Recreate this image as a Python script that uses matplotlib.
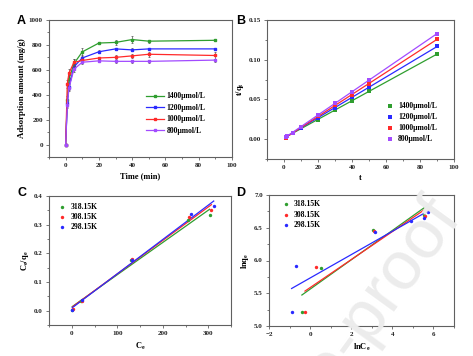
import numpy as np
import matplotlib
matplotlib.use("Agg")
import matplotlib.pyplot as plt
from matplotlib.ticker import MultipleLocator, FormatStrFormatter

# ---------------- data ----------------
time_a = [0, 1, 2, 5, 10, 20, 30, 40, 50, 90]
labels_conc = ["1400\u03bcmol/L", "1200\u03bcmol/L", "1000\u03bcmol/L", "800\u03bcmol/L"]
q_1400 = [0, 360, 525, 650, 744, 815, 820, 843, 830, 837]
q_1200 = [0, 330, 460, 625, 695, 745, 768, 760, 768, 768]
q_1000 = [0, 488, 573, 660, 675, 695, 700, 712, 725, 715]
q_800 = [0, 314, 453, 605, 661, 672, 668, 668, 668, 678]
err_1400 = [0, 30, 30, 40, 35, 10, 18, 28, 12, 8]
err_1200 = [0, 25, 25, 30, 20, 12, 10, 12, 10, 8]
err_1000 = [0, 30, 30, 30, 15, 10, 15, 15, 20, 25]
err_800 = [0, 20, 25, 25, 12, 12, 12, 12, 10, 12]

time_b = [1, 2, 5, 10, 20, 30, 40, 50, 90]
tq_1400 = [0.0028, 0.0038, 0.0077, 0.0134, 0.0245, 0.0366, 0.0474, 0.0602, 0.1075]
tq_1200 = [0.0030, 0.0043, 0.0080, 0.0144, 0.0268, 0.0390, 0.0526, 0.0651, 0.1170]
tq_1000 = [0.0020, 0.0035, 0.0076, 0.0148, 0.0288, 0.0429, 0.0562, 0.0690, 0.1260]
tq_800 = [0.0032, 0.0044, 0.0083, 0.0151, 0.0298, 0.0449, 0.0599, 0.0748, 0.1327]

labels_temp = ["318.15K", "308.15K", "298.15K"]
ce_318 = [1, 20, 130, 255, 303]
ceq_318 = [0.003, 0.033, 0.178, 0.315, 0.333]
ce_308 = [2, 22, 132, 257, 307]
ceq_308 = [0.005, 0.035, 0.180, 0.328, 0.350]
ce_298 = [1, 23, 133, 261, 312]
ceq_298 = [0.002, 0.037, 0.176, 0.338, 0.365]

lnce_318 = [-0.40, 0.55, 3.05, 5.55, 5.75]
lnqe_318 = [5.21, 5.89, 6.46, 6.69, 6.81]
lnce_308 = [-0.25, 0.30, 3.10, 5.60, 5.75]
lnqe_308 = [5.22, 5.90, 6.45, 6.68, 6.78]
lnce_298 = [-0.90, -0.70, 3.15, 4.90, 5.55, 5.75]
lnqe_298 = [5.22, 5.92, 6.43, 6.60, 6.65, 6.74]

# ---------------- style ----------------
green = "#2f9e2f"
blue = "#2a2aff"
red = "#ff2a2a"
purple = "#a24bff"
cols4 = [green, blue, red, purple]
cols3 = [green, red, blue]

SERIF = "Liberation Serif"
tick_fs = 5
lab_fs = 6
spine_col = "#606060"

W, H = 473, 356
fig = plt.figure(figsize=(W / 100, H / 100), dpi=100)


def px_axes(l, t, r, b):
    return fig.add_axes([l / W, 1 - b / H, (r - l) / W, (b - t) / H])


def style(ax):
    ax.patch.set_alpha(0)
    for s in ax.spines.values():
        s.set_color(spine_col)
        s.set_linewidth(0.8)
    ax.tick_params(which="both", direction="out", colors=spine_col,
                   labelcolor="#222222", labelsize=tick_fs, width=0.6,
                   top=False, right=False)
    ax.tick_params(which="major", length=2.5, pad=2)
    ax.tick_params(which="minor", length=1.5)
    for lab in ax.get_xticklabels() + ax.get_yticklabels():
        lab.set_fontfamily(SERIF)
        lab.set_fontweight("bold")


# Watermark
fig.text(462 / W, 1 - 218 / H, "Journal Pre-proof", fontsize=50, color="#ececec",
         rotation=54, ha="right", va="baseline", family="Liberation Sans",
         zorder=0, rotation_mode="anchor")

leg_prop = {"family": SERIF, "weight": "bold", "size": 5.5}

# ---------------- A ----------------
axA = px_axes(49, 20, 232, 157)
qs = [q_1400, q_1200, q_1000, q_800]
errs = [err_1400, err_1200, err_1000, err_800]
for q, e, c, lab in zip(qs, errs, cols4, labels_conc):
    axA.errorbar(time_a, q, yerr=e, color=c, fmt="none",
                 elinewidth=0.5, capsize=1, capthick=0.5, ecolor="#555555")
    axA.plot(time_a, q, color=c, marker="s", ms=1.8, lw=0.9, label=lab)
axA.set_xlim(-10, 100)
axA.set_ylim(-100, 1000)
axA.xaxis.set_major_locator(MultipleLocator(20))
axA.xaxis.set_minor_locator(MultipleLocator(10))
axA.yaxis.set_major_locator(MultipleLocator(200))
axA.yaxis.set_minor_locator(MultipleLocator(100))
axA.set_xlabel("Time (min)", family=SERIF, weight="bold", fontsize=lab_fs, labelpad=3)
axA.set_ylabel("Adsorption amount (mg/g)", family=SERIF, weight="bold", fontsize=lab_fs + 0.3, labelpad=2)
style(axA)
axA.legend(loc="upper left", bbox_to_anchor=(0.5, 0.51), frameon=False,
           prop=leg_prop, handlelength=2.4, labelspacing=0.45, handletextpad=0.3,
           borderpad=0.2)

# ---------------- B ----------------
axB = px_axes(267, 20, 454, 159)
tqs = [tq_1400, tq_1200, tq_1000, tq_800]
tb = np.array(time_b, dtype=float)
for y, c, lab in zip(tqs, cols4, labels_conc):
    axB.scatter(tb, y, color=c, marker="s", s=5, label=lab, zorder=3, linewidths=0)
    k, b0 = np.polyfit(tb, y, 1)
    xx = np.array([tb.min(), tb.max()])
    axB.plot(xx, k * xx + b0, color=c, lw=0.9, zorder=2)
axB.set_xlim(-10, 100)
axB.set_ylim(-0.025, 0.15)
axB.xaxis.set_major_locator(MultipleLocator(20))
axB.xaxis.set_minor_locator(MultipleLocator(10))
axB.yaxis.set_major_locator(MultipleLocator(0.05))
axB.yaxis.set_minor_locator(MultipleLocator(0.025))
axB.yaxis.set_major_formatter(FormatStrFormatter("%.2f"))
axB.set_xlabel("t", family=SERIF, weight="bold", fontsize=lab_fs, labelpad=3)
axB.set_ylabel("t/q$_\\mathregular{t}$", family=SERIF, weight="bold", fontsize=lab_fs, labelpad=2)
style(axB)
axB.legend(loc="lower left", bbox_to_anchor=(0.61, 0.08), frameon=False,
           prop=leg_prop, handlelength=1.0, labelspacing=0.38, handletextpad=0.5,
           scatterpoints=1, borderpad=0.2)

# ---------------- C ----------------
axC = px_axes(49, 196, 231, 325)
for x, y, c, lab in zip([ce_318, ce_308, ce_298], [ceq_318, ceq_308, ceq_298], cols3, labels_temp):
    x = np.array(x, float)
    axC.scatter(x, y, color=c, marker="o", s=6, label=lab, zorder=3, linewidths=0)
    k, b0 = np.polyfit(x, y, 1)
    xx = np.array([x.min(), x.max()])
    axC.plot(xx, k * xx + b0, color=c, lw=0.9, zorder=2)
axC.set_xlim(-50, 350)
axC.set_ylim(-0.05, 0.4)
axC.xaxis.set_major_locator(MultipleLocator(100))
axC.xaxis.set_minor_locator(MultipleLocator(50))
axC.yaxis.set_major_locator(MultipleLocator(0.1))
axC.yaxis.set_minor_locator(MultipleLocator(0.05))
axC.yaxis.set_major_formatter(FormatStrFormatter("%.1f"))
axC.set_xlabel("C$_\\mathregular{e}$", family=SERIF, weight="bold", fontsize=lab_fs, labelpad=3)
axC.set_ylabel("C$_\\mathregular{e}$/q$_\\mathregular{e}$", family=SERIF, weight="bold", fontsize=lab_fs, labelpad=2)
style(axC)
axC.legend(loc="upper left", bbox_to_anchor=(0.02, 0.99), frameon=False,
           prop=leg_prop, handlelength=1.0, labelspacing=0.3, handletextpad=0.6,
           scatterpoints=1, borderpad=0.2)

# ---------------- D ----------------
axD = px_axes(269, 195, 454, 326)
for x, y, c, lab in zip([lnce_318, lnce_308, lnce_298], [lnqe_318, lnqe_308, lnqe_298], cols3, labels_temp):
    x = np.array(x, float)
    axD.scatter(x, y, color=c, marker="o", s=6, label=lab, zorder=3, linewidths=0)
    k, b0 = np.polyfit(x, y, 1)
    xx = np.array([x.min(), x.max()])
    axD.plot(xx, k * xx + b0, color=c, lw=0.9, zorder=2)
axD.set_xlim(-2, 7)
axD.set_ylim(5.0, 7.0)
axD.xaxis.set_major_locator(MultipleLocator(2))
axD.xaxis.set_minor_locator(MultipleLocator(1))
axD.yaxis.set_major_locator(MultipleLocator(0.5))
axD.yaxis.set_minor_locator(MultipleLocator(0.25))
axD.yaxis.set_major_formatter(FormatStrFormatter("%.1f"))
axD.set_xlabel("lnC$_\\mathregular{e}$", family=SERIF, weight="bold", fontsize=lab_fs, labelpad=3)
axD.set_ylabel("lnq$_\\mathregular{e}$", family=SERIF, weight="bold", fontsize=lab_fs, labelpad=2)
style(axD)
axD.legend(loc="upper left", bbox_to_anchor=(0.04, 1.0), frameon=False,
           prop=leg_prop, handlelength=1.0, labelspacing=0.3, handletextpad=0.6,
           scatterpoints=1, borderpad=0.2)

# panel letters
for x, y, t in [(17, 24, "A"), (236, 24, "B"), (17, 196, "C"), (236, 196, "D")]:
    fig.text(x / W, 1 - y / H, t, fontsize=9, weight="bold", family="Liberation Sans",
             ha="left", va="baseline")

fig.savefig("out.png", dpi=100)
